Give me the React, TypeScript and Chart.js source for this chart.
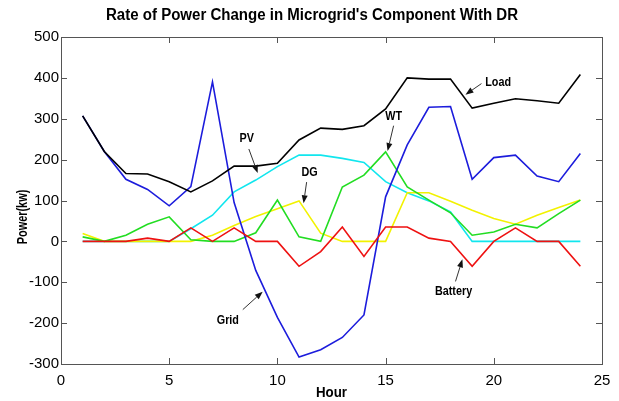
import { useEffect, useRef } from "react";
import { Chart, registerables } from "chart.js";

Chart.register(...registerables);

const hours = [1, 2, 3, 4, 5, 6, 7, 8, 9, 10, 11, 12, 13, 14, 15, 16, 17, 18, 19, 20, 21, 22, 23, 24];
const load = [307, 220, 166, 165, 146, 121, 148, 184, 184, 191, 248, 277, 274, 283, 324, 400, 397, 397, 326, 338, 349, 344, 338, 408];
const grid = [307, 220, 152, 127, 87, 134, 390, 95, -71, -186, -283, -265, -235, -180, 109, 236, 328, 330, 152, 205, 211, 160, 146, 215];
const pv = [0, 0, 0, 0, 0, 31, 64, 121, 150, 183, 211, 211, 203, 193, 146, 119, 99, 72, 0, 0, 0, 0, 0, 0];
const dg = [19, 0, 0, 0, 0, 0, 15, 39, 61, 80, 99, 20, 0, 0, 0, 119, 119, 98, 76, 56, 42, 64, 83, 101];
const wt = [11, 0, 15, 42, 60, 4, 0, 0, 21, 101, 11, 0, 133, 162, 219, 133, 101, 70, 15, 23, 42, 33, 68, 101];
const battery = [0, 0, 0, 8, 0, 33, 0, 33, 0, 0, -61, -25, 35, -37, 35, 35, 8, 0, -61, 0, 33, 0, 0, -61];

const xTickValues = [0, 5, 10, 15, 20, 25];
const yTickValues = [-300, -200, -100, 0, 100, 200, 300, 400, 500];

const chartTitle = "Rate of Power Change in Microgrid's Component With DR";
const xTitle = "Hour";
const yTitle = "Power(kw)";

// label text position and arrow (tail -> tip), in data coordinates
const notes = [
  { text: "PV", x: 8.58, y: 251, tail: [8.68, 226], tip: [9.09, 167] },
  { text: "DG", x: 11.49, y: 170, tail: [11.35, 145], tip: [11.21, 93] },
  { text: "WT", x: 15.37, y: 305, tail: [15.37, 283], tip: [15.09, 221] },
  { text: "Grid", x: 7.71, y: -192, tail: [8.4, -167], tip: [9.32, -123] },
  { text: "Battery", x: 18.14, y: -123, tail: [18.23, -98], tip: [18.55, -44] },
  { text: "Load", x: 20.2, y: 388, tail: [19.43, 386], tip: [18.69, 359] },
];

const FONT = "'Liberation Sans', Arial, sans-serif";

function condensedText(ctx: CanvasRenderingContext2D, text: string, x: number, y: number, sx: number, rot = 0) {
  ctx.save();
  ctx.translate(x, y);
  if (rot) ctx.rotate(rot);
  ctx.scale(sx, 1);
  ctx.fillText(text, 0, 0);
  ctx.restore();
}

const decorPlugin = {
  id: "decor",
  afterDatasetsDraw(chart: any) {
    const { ctx, chartArea: a, scales } = chart;
    const xs = scales.x;
    const ys = scales.y;
    ctx.save();
    ctx.strokeStyle = "#555";
    ctx.lineWidth = 1;
    ctx.strokeRect(Math.round(a.left) + 0.5, Math.round(a.top) + 0.5, Math.round(a.right - a.left), Math.round(a.bottom - a.top));
    const tl = 6;
    ctx.beginPath();
    for (const v of xTickValues) {
      const px = Math.round(xs.getPixelForValue(v)) + 0.5;
      ctx.moveTo(px, a.bottom);
      ctx.lineTo(px, a.bottom - tl);
      ctx.moveTo(px, a.top);
      ctx.lineTo(px, a.top + tl);
    }
    for (const v of yTickValues) {
      const py = Math.round(ys.getPixelForValue(v)) + 0.5;
      ctx.moveTo(a.left, py);
      ctx.lineTo(a.left + tl, py);
      ctx.moveTo(a.right, py);
      ctx.lineTo(a.right - tl, py);
    }
    ctx.stroke();
    ctx.restore();
  },
  afterDraw(chart: any) {
    const { ctx, chartArea: a, scales } = chart;
    const xs = scales.x;
    const ys = scales.y;
    ctx.save();
    ctx.fillStyle = "#000";
    ctx.textAlign = "center";
    ctx.textBaseline = "middle";
    ctx.font = `bold 16px ${FONT}`;
    condensedText(ctx, chartTitle, 312, 16, 0.94);
    ctx.font = `bold 14px ${FONT}`;
    condensedText(ctx, xTitle, (a.left + a.right) / 2, 393, 0.95);
    condensedText(ctx, yTitle, 23, 217, 0.78, -Math.PI / 2);

    ctx.font = `bold 13.5px ${FONT}`;
    for (const n of notes) {
      ctx.fillStyle = "#000";
      condensedText(ctx, n.text, xs.getPixelForValue(n.x), ys.getPixelForValue(n.y), 0.8);
      const x0 = xs.getPixelForValue(n.tail[0]);
      const y0 = ys.getPixelForValue(n.tail[1]);
      const x1 = xs.getPixelForValue(n.tip[0]);
      const y1 = ys.getPixelForValue(n.tip[1]);
      const ang = Math.atan2(y1 - y0, x1 - x0);
      const hl = 8;
      const hw = 3;
      ctx.strokeStyle = "#333";
      ctx.lineWidth = 1;
      ctx.beginPath();
      ctx.moveTo(x0, y0);
      ctx.lineTo(x1 - hl * Math.cos(ang), y1 - hl * Math.sin(ang));
      ctx.stroke();
      ctx.fillStyle = "#111";
      ctx.beginPath();
      ctx.moveTo(x1, y1);
      ctx.lineTo(x1 - hl * Math.cos(ang) + hw * Math.sin(ang), y1 - hl * Math.sin(ang) - hw * Math.cos(ang));
      ctx.lineTo(x1 - hl * Math.cos(ang) - hw * Math.sin(ang), y1 - hl * Math.sin(ang) + hw * Math.cos(ang));
      ctx.closePath();
      ctx.fill();
    }
    ctx.restore();
  },
};

function series(label: string, values: number[], color: string) {
  return {
    label,
    data: values.map((v, i) => ({ x: hours[i], y: v })),
    borderColor: color,
    backgroundColor: color,
    borderWidth: 1.6,
    pointRadius: 0,
    tension: 0,
    fill: false,
  };
}

export default function App() {
  const ref = useRef<HTMLCanvasElement | null>(null);
  useEffect(() => {
    document.body.style.margin = "0";
    const canvas = ref.current!;
    const chart = new Chart(canvas, {
      type: "line",
      data: {
        datasets: [
          series("Battery", battery, "#ee1111"),
          series("Load", load, "#000000"),
          series("Grid", grid, "#1c1cdc"),
          series("WT", wt, "#22dd22"),
          series("DG", dg, "#f2f200"),
          series("PV", pv, "#11e6ee"),
        ],
      },
      options: {
        responsive: false,
        animation: false,
        devicePixelRatio: 1,
        layout: { padding: { top: 37, right: 17, left: 0, bottom: 0 } },
        plugins: { legend: { display: false }, tooltip: { enabled: false }, title: { display: false } },
        scales: {
          x: {
            type: "linear",
            min: 0,
            max: 25,
            afterBuildTicks: (s: any) => {
              s.ticks = xTickValues.map((v) => ({ value: v }));
            },
            afterFit: (s: any) => {
              s.height = 37;
            },
            grid: { display: false, drawTicks: false },
            border: { display: false },
            ticks: { color: "#000", padding: 8, font: { family: FONT, size: 15 }, maxRotation: 0 },
          },
          y: {
            type: "linear",
            min: -300,
            max: 500,
            afterBuildTicks: (s: any) => {
              s.ticks = yTickValues.map((v) => ({ value: v }));
            },
            afterFit: (s: any) => {
              s.width = 61;
            },
            grid: { display: false, drawTicks: false },
            border: { display: false },
            ticks: { color: "#000", padding: 2, font: { family: FONT, size: 15 } },
          },
        },
      },
      plugins: [decorPlugin],
    } as any);
    return () => chart.destroy();
  }, []);
  return <canvas ref={ref} width={619} height={401} style={{ display: "block", width: 619, height: 401 }} />;
}
